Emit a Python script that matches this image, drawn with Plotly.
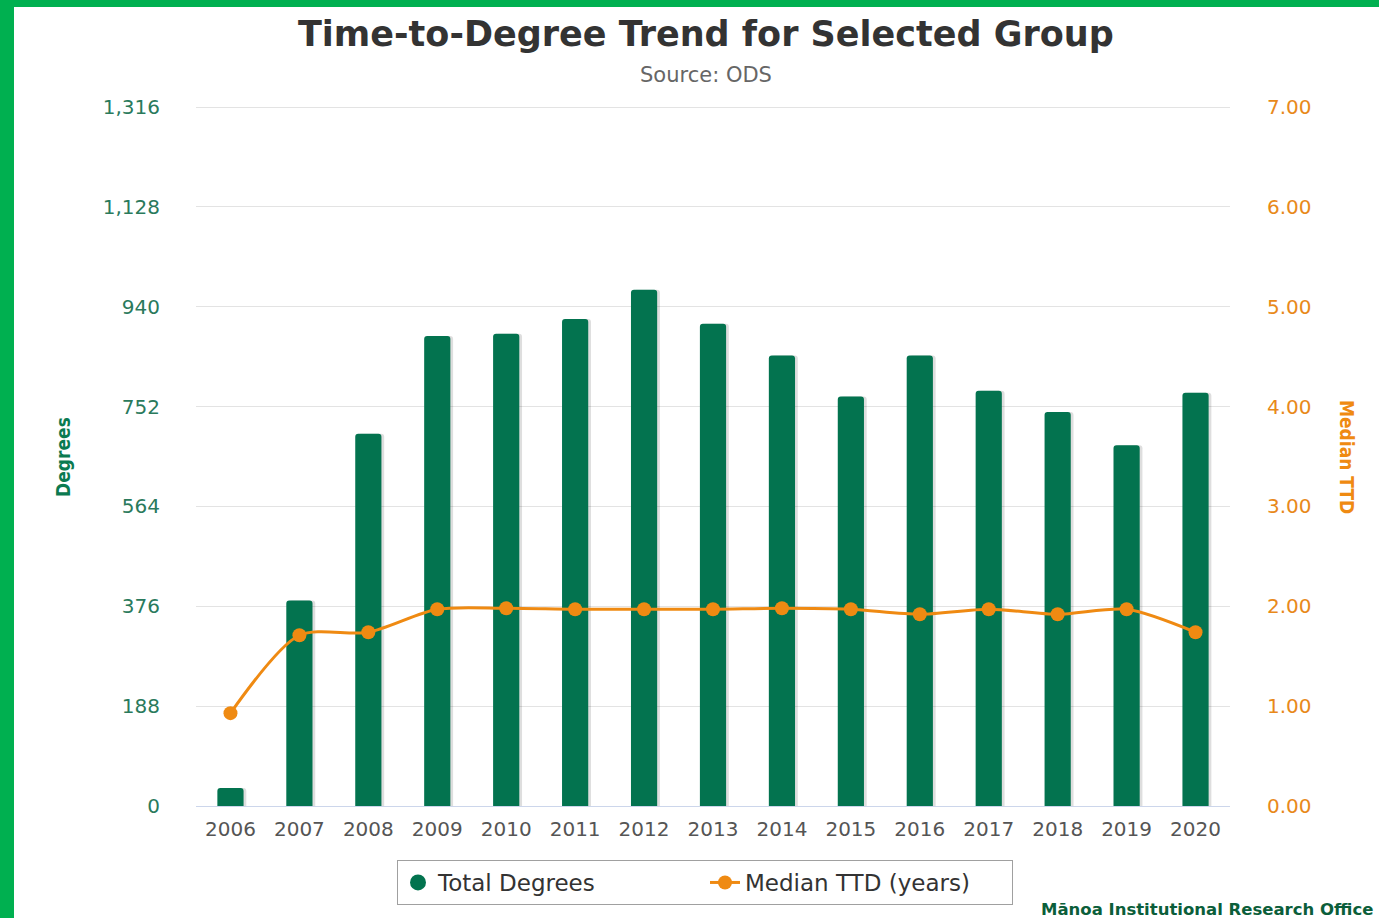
import plotly.graph_objects as go

years = ["2006", "2007", "2008", "2009", "2010", "2011", "2012", "2013",
         "2014", "2015", "2016", "2017", "2018", "2019", "2020"]
total_degrees = [34, 387, 701, 885, 889, 917, 972, 908, 848, 771, 848, 782, 742, 679, 778]
median_ttd = [0.93, 1.71, 1.74, 1.97, 1.98, 1.97, 1.97, 1.97, 1.98, 1.97, 1.92, 1.97, 1.92, 1.97, 1.74]
left_ticks = [0, 188, 376, 564, 752, 940, 1128, 1316]
right_ticks = [0, 1, 2, 3, 4, 5, 6, 7]

W, H = 1379, 918
L, R, T, B = 196, 149, 106, 112
pw, ph = W - L - R, H - T - B

def px(x):
    return (x - L) / pw

def py(y):
    return (H - B - y) / ph

GREEN = "#03734f"
ORANGE = "#ef8a12"
TOPPAD = 1.0015

fig = go.Figure()

# shadow
fig.add_trace(go.Bar(x=years, y=total_degrees, width=0.38, offset=-0.15,
                     marker=dict(color="rgba(0,0,0,0.13)", line=dict(width=0)),
                     showlegend=False, hoverinfo="skip"))
fig.add_trace(go.Bar(x=years, y=total_degrees, width=0.38, offset=-0.19,
                     marker=dict(color=GREEN, line=dict(width=0)),
                     name="Total Degrees", showlegend=False))
# legend proxy for circle symbol
fig.add_trace(go.Scatter(x=[None], y=[None], mode="markers",
                         marker=dict(color=GREEN, size=16, symbol="circle"),
                         name="Total Degrees"))
fig.add_trace(go.Scatter(x=years, y=median_ttd, yaxis="y2", mode="lines+markers",
                         line=dict(color=ORANGE, width=3, shape="spline", smoothing=0.8),
                         marker=dict(color=ORANGE, size=14),
                         name="Median TTD (years)"))

shapes = [
    dict(type="rect", xref="paper", yref="paper", x0=px(0), x1=px(14), y0=py(0), y1=py(H),
         fillcolor="#00b050", line=dict(width=0), layer="above"),
    dict(type="rect", xref="paper", yref="paper", x0=px(0), x1=px(W), y0=py(0), y1=py(7),
         fillcolor="#00b050", line=dict(width=0), layer="above"),
]

annotations = [
    dict(text="Time-to-Degree Trend for Selected Group", xref="paper", yref="paper",
         x=px(706), y=py(34), showarrow=False, xanchor="center", yanchor="middle",
         font=dict(family="DejaVu Sans", size=35, color="#333333", weight="bold")),
    dict(text="Source: ODS", xref="paper", yref="paper",
         x=px(706), y=py(75), showarrow=False, xanchor="center", yanchor="middle",
         font=dict(family="DejaVu Sans", size=21, color="#666666")),
    dict(text="Degrees", xref="paper", yref="paper", x=px(63), y=py(457),
         showarrow=False, textangle=-90, xanchor="center", yanchor="middle",
         font=dict(family="DejaVu Sans Condensed, DejaVu Sans", size=19,
                   color="#0b7a50", weight="bold")),
    dict(text="Median TTD", xref="paper", yref="paper", x=px(1347), y=py(457),
         showarrow=False, textangle=90, xanchor="center", yanchor="middle",
         font=dict(family="DejaVu Sans Condensed, DejaVu Sans", size=19,
                   color=ORANGE, weight="bold")),
    dict(text="Mānoa Institutional Research Office", xref="paper", yref="paper",
         x=px(1375), y=py(909), showarrow=False, xanchor="right", yanchor="middle",
         font=dict(family="DejaVu Sans", size=16.5, color="#0b5e3a", weight="bold")),
]

fig.update_layout(
    width=W, height=H,
    margin=dict(l=L, r=R, t=T, b=B, autoexpand=False),
    paper_bgcolor="white", plot_bgcolor="white",
    barmode="overlay", barcornerradius=3,
    showlegend=True,
    legend=dict(orientation="h", xref="paper", x=px(705), xanchor="center",
                y=py(860), yanchor="top",
                bordercolor="#a0a0a0", borderwidth=1,
                font=dict(family="DejaVu Sans", size=23, color="#333333"),
                itemsizing="trace", entrywidth=262, entrywidthmode="pixels"),
    xaxis=dict(type="category", range=[-0.5, 14.5], showgrid=False,
               showline=True, linecolor="#ccd6eb", linewidth=1,
               ticks="", tickfont=dict(family="DejaVu Sans", size=20, color="#555555"),
               ticklabelstandoff=5),
    yaxis=dict(range=[0, 1316 * TOPPAD], tickvals=left_ticks, tickformat=",",
               showgrid=True, gridcolor="#e3e3e3", gridwidth=1, zeroline=False,
               tickfont=dict(family="DejaVu Sans", size=20, color="#2a7a5c"),
               ticklabelstandoff=35),
    yaxis2=dict(range=[0, 7 * TOPPAD], tickvals=right_ticks, tickformat=".2f",
                overlaying="y", side="right", showgrid=False, zeroline=False,
                tickfont=dict(family="DejaVu Sans", size=20, color="#e8891a"),
                ticklabelstandoff=36),
    shapes=shapes, annotations=annotations,
)

fig.write_html("out.html", config={"displayModeBar": False},
               post_script="document.body.style.margin='0';")
